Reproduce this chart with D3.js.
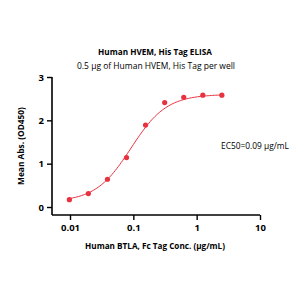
<!DOCTYPE html>
<html><head><meta charset="utf-8">
<script src="https://cdn.jsdelivr.net/npm/d3@7"></script>
<style>body{margin:0;background:#fff}svg{display:block}text{font-family:"Open Sans",Lato,sans-serif}</style>
</head><body>
<svg id="c" width="300" height="300"></svg>
<script>
const conc = [0.00977, 0.0195, 0.039, 0.078, 0.156, 0.3125, 0.625, 1.25, 2.5];
const od = [0.17, 0.31, 0.64, 1.14, 1.89, 2.41, 2.53, 2.58, 2.58];
const xTicks = [0.01, 0.1, 1, 10];
const xTickLabels = ["0.01", "0.1", "1", "10"];
const yTicks = [0, 1, 2, 3];
const fitBottom = 0.12, fitTop = 2.6, fitEC50 = 0.092, fitHill = 1.55;
const title = "Human HVEM, His Tag ELISA";
const subtitle = "0.5 \u03bcg of Human HVEM, His Tag per well";
const xLabel = "Human BTLA, Fc Tag Conc. (\u03bcg/mL)";
const yLabel = "Mean Abs. (OD450)";
const ecLabel = "EC50=0.09 \u03bcg/mL";

const svg = d3.select("#c");
const x = d3.scaleLog().domain([0.01, 10]).range([70, 260]);
const y = d3.scaleLinear().domain([0, 3]).range([207, 77]);
const red = "#e8323f";

function fitWidth(sel, w) {
  const len = sel.node().getComputedTextLength();
  const fs = parseFloat(sel.attr("font-size"));
  sel.attr("font-size", (fs * w / len).toFixed(2));
  return sel;
}

fitWidth(svg.append("text").attr("x", 155).attr("y", 55).attr("text-anchor", "middle")
  .attr("font-size", 9).attr("font-weight", "bold").text(title), 114);
fitWidth(svg.append("text").attr("x", 156).attr("y", 69).attr("text-anchor", "middle")
  .attr("font-size", 9).text(subtitle), 158);

const xa = svg.append("g").attr("transform", "translate(0,215)")
  .call(d3.axisBottom(x).tickValues(xTicks).tickFormat((d, i) => xTickLabels[i]).tickSizeOuter(0).tickSize(5).tickPadding(4));
xa.select(".domain").attr("d", "M52,0H260").attr("stroke-width", 1.6);
const ya = svg.append("g").attr("transform", "translate(52,0)")
  .call(d3.axisLeft(y).tickValues(yTicks).tickFormat(d3.format("d")).tickSizeOuter(0).tickSize(5).tickPadding(3));
ya.select(".domain").attr("d", "M0,77V215").attr("stroke-width", 1.6);
svg.selectAll(".tick line").attr("stroke-width", 1.4);
svg.selectAll(".tick text").attr("font-size", 9.5).attr("font-weight", "bold")
  .attr("font-family", "'Open Sans', Lato, sans-serif");

fitWidth(svg.append("text").attr("x", 155).attr("y", 249).attr("text-anchor", "middle")
  .attr("font-size", 9).attr("font-weight", "bold").text(xLabel), 140);
fitWidth(svg.append("text").attr("transform", "translate(24,146) rotate(-90)").attr("text-anchor", "middle")
  .attr("font-size", 9).attr("font-weight", "bold").text(yLabel), 78);
fitWidth(svg.append("text").attr("x", 221).attr("y", 149).attr("font-size", 9).text(ecLabel), 68);

const fit = c => fitBottom + (fitTop - fitBottom) / (1 + Math.pow(fitEC50 / c, fitHill));
const cs = d3.range(0, 101).map(i => Math.pow(10, Math.log10(conc[0]) + i / 100 * (Math.log10(conc[conc.length - 1]) - Math.log10(conc[0]))));
svg.append("path").datum(cs).attr("fill", "none").attr("stroke", red).attr("stroke-width", 1)
  .attr("d", d3.line().x(c => x(c)).y(c => y(fit(c))));
svg.selectAll("circle.pt").data(conc).join("circle").attr("class", "pt")
  .attr("cx", d => x(d)).attr("cy", (d, i) => y(od[i])).attr("r", 2.6).attr("fill", red);
</script>
</body></html>
